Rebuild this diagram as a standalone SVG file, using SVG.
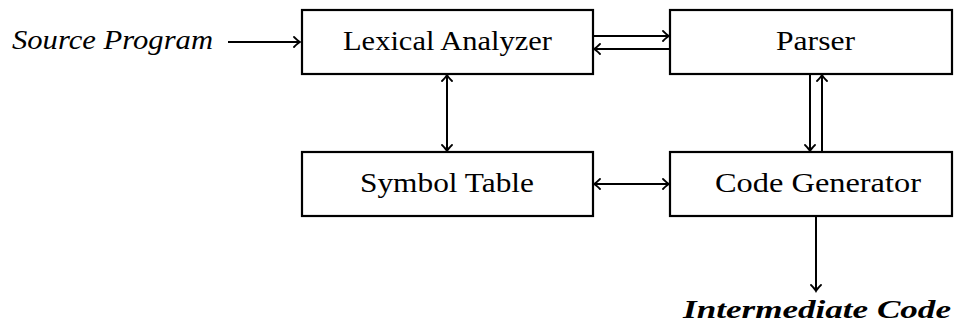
<svg xmlns="http://www.w3.org/2000/svg" width="955" height="327" viewBox="0 0 955 327">
<defs>
<style>
.box{fill:#fff;stroke:#000;stroke-width:2.2}
.lbl{font-family:"Liberation Serif","DejaVu Serif",serif;font-size:27px;fill:#000;text-anchor:middle}
.it{font-family:"Liberation Serif","DejaVu Serif",serif;font-size:27px;font-style:italic;fill:#000}
.bi{font-family:"Liberation Serif","DejaVu Serif",serif;font-size:25px;font-style:italic;font-weight:bold;fill:#000;text-anchor:middle}
.c{fill:none;stroke:#000;stroke-width:2}
</style>
<marker id="ah" viewBox="-8 -6 10 12" refX="0" refY="0" markerWidth="10" markerHeight="12" markerUnits="userSpaceOnUse" orient="auto-start-reverse">
<path d="M-6,-5 Q-2,-1 0,0 Q-2,1 -6,5" fill="none" stroke="#000" stroke-width="1.8" stroke-linecap="round"/>
</marker>
</defs>
<g id="connectors">
<line class="c" x1="228" y1="42" x2="300" y2="42" marker-end="url(#ah)"/>
<line class="c" x1="594" y1="36" x2="669" y2="36" marker-end="url(#ah)"/>
<line class="c" x1="669" y1="49" x2="594" y2="49" marker-end="url(#ah)"/>
<line class="c" x1="447" y1="75" x2="447" y2="151" marker-start="url(#ah)" marker-end="url(#ah)"/>
<line class="c" x1="594" y1="184" x2="669" y2="184" marker-start="url(#ah)" marker-end="url(#ah)"/>
<line class="c" x1="810" y1="75" x2="810" y2="151" marker-end="url(#ah)"/>
<line class="c" x1="822" y1="151" x2="822" y2="75" marker-end="url(#ah)"/>
<line class="c" x1="816" y1="217" x2="816" y2="291" marker-end="url(#ah)"/>
</g>
<g id="source"><text class="it" x="12" y="49" textLength="201" lengthAdjust="spacingAndGlyphs">Source Program</text></g>
<g id="lexical"><rect class="box" x="302" y="10" width="291" height="64"/><text class="lbl" x="447.5" y="50" textLength="209" lengthAdjust="spacingAndGlyphs">Lexical Analyzer</text></g>
<g id="parser"><rect class="box" x="670" y="10" width="282" height="64"/><text class="lbl" x="815.5" y="50" textLength="79" lengthAdjust="spacingAndGlyphs">Parser</text></g>
<g id="symbol"><rect class="box" x="302" y="152" width="291" height="64"/><text class="lbl" x="447" y="192" textLength="174" lengthAdjust="spacingAndGlyphs">Symbol Table</text></g>
<g id="codegen"><rect class="box" x="670" y="152" width="282" height="64"/><text class="lbl" x="818" y="192" textLength="206" lengthAdjust="spacingAndGlyphs">Code Generator</text></g>
<g id="output"><text class="bi" x="817" y="318" textLength="268" lengthAdjust="spacingAndGlyphs">Intermediate Code</text></g>
</svg>
